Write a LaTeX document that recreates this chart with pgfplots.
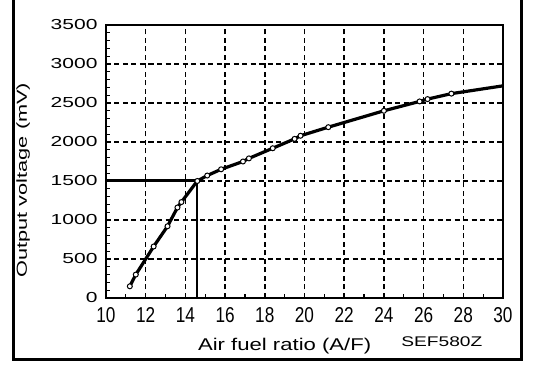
\documentclass[border=0pt]{standalone}
\usepackage{fontspec}
\setmainfont{Liberation Sans}
\usepackage{graphicx}
\usepackage{pgfplots}
\pgfplotsset{compat=1.18}
\begin{document}
\begin{tikzpicture}
\useasboundingbox (0pt,0pt) rectangle (560pt,374pt);
\draw[line width=3pt] (13.5pt,377pt) -- (13.5pt,14.5pt) -- (521.5pt,14.5pt) -- (521.5pt,377pt);
\begin{axis}[
 at={(106pt,76pt)}, anchor=south west,
 width=397pt, height=273pt, scale only axis,
 xmin=10, xmax=30, ymin=0, ymax=3500,
 xtick={10,12,...,30}, ytick={0,500,...,3500},
 minor x tick num=1, minor y tick num=4,
 tick align=inside, xtick pos=bottom, ytick pos=left,
 major tick length=4pt, minor tick length=4pt,
 tick style={line width=1.3pt, black},
 axis line style={line width=2.2pt},
 grid=major,
 major grid style={dash pattern=on 5pt off 3.5pt, line width=1.6pt, black},
 /pgf/number format/assume math mode=true,
 /pgf/number format/1000 sep={},
 xticklabel={\scalebox{0.8}[1]{\pgfmathprintnumber{\tick}}},
 yticklabel={\scalebox{1.45}[1]{\pgfmathprintnumber{\tick}}},
 xticklabel style={font=\fontsize{21.5}{21.5}\selectfont, yshift=-6pt},
 yticklabel style={font=\fontsize{14.5}{14.5}\selectfont, xshift=-5pt},
 xlabel={\scalebox{1.3}[1]{Air fuel ratio (A/F)}},
 ylabel={\scalebox{1.5}[1]{Output voltage (mV)}},
 xlabel style={at={(rel axis cs:0.45,-0.175)}, anchor=center, font=\fontsize{17}{17}\selectfont},
 ylabel style={at={(rel axis cs:-0.209,0.432)}, anchor=center, font=\fontsize{14.5}{14.5}\selectfont},
 clip=false,
]
\addplot[line width=3pt, black, no marks] coordinates {(10,1500) (14.6,1500)};
\addplot[line width=2pt, black, no marks] coordinates {(14.6,0) (14.6,1500)};
\addplot[line width=3.2pt, black, no marks, line join=round] coordinates {
(11.2,150) (11.5,300) (12.4,660) (13.1,920) (13.6,1160) (13.8,1230) (14.6,1500)
(15.1,1570) (15.8,1650) (16.9,1750) (17.2,1790) (18.4,1920) (19.5,2040) (19.8,2080)
(21.2,2190) (24.0,2400) (25.8,2520) (26.2,2550) (27.4,2620) (30,2720)};
\addplot[only marks, mark=*, mark size=2.5pt, mark options={fill=white, draw=black, line width=1pt}] coordinates {
(11.2,150) (11.5,300) (12.4,660) (13.1,920) (13.6,1160) (13.8,1230) (14.6,1500)
(15.1,1570) (15.8,1650) (16.9,1750) (17.2,1790) (18.4,1920) (19.5,2040) (19.8,2080)
(21.2,2190) (24.0,2400) (25.8,2520) (26.2,2550) (27.4,2620)};
\node[font=\fontsize{14}{14}\selectfont] at (rel axis cs:0.846,-0.161) {\scalebox{1.37}[1]{SEF580Z}};
\end{axis}
\end{tikzpicture}
\end{document}
